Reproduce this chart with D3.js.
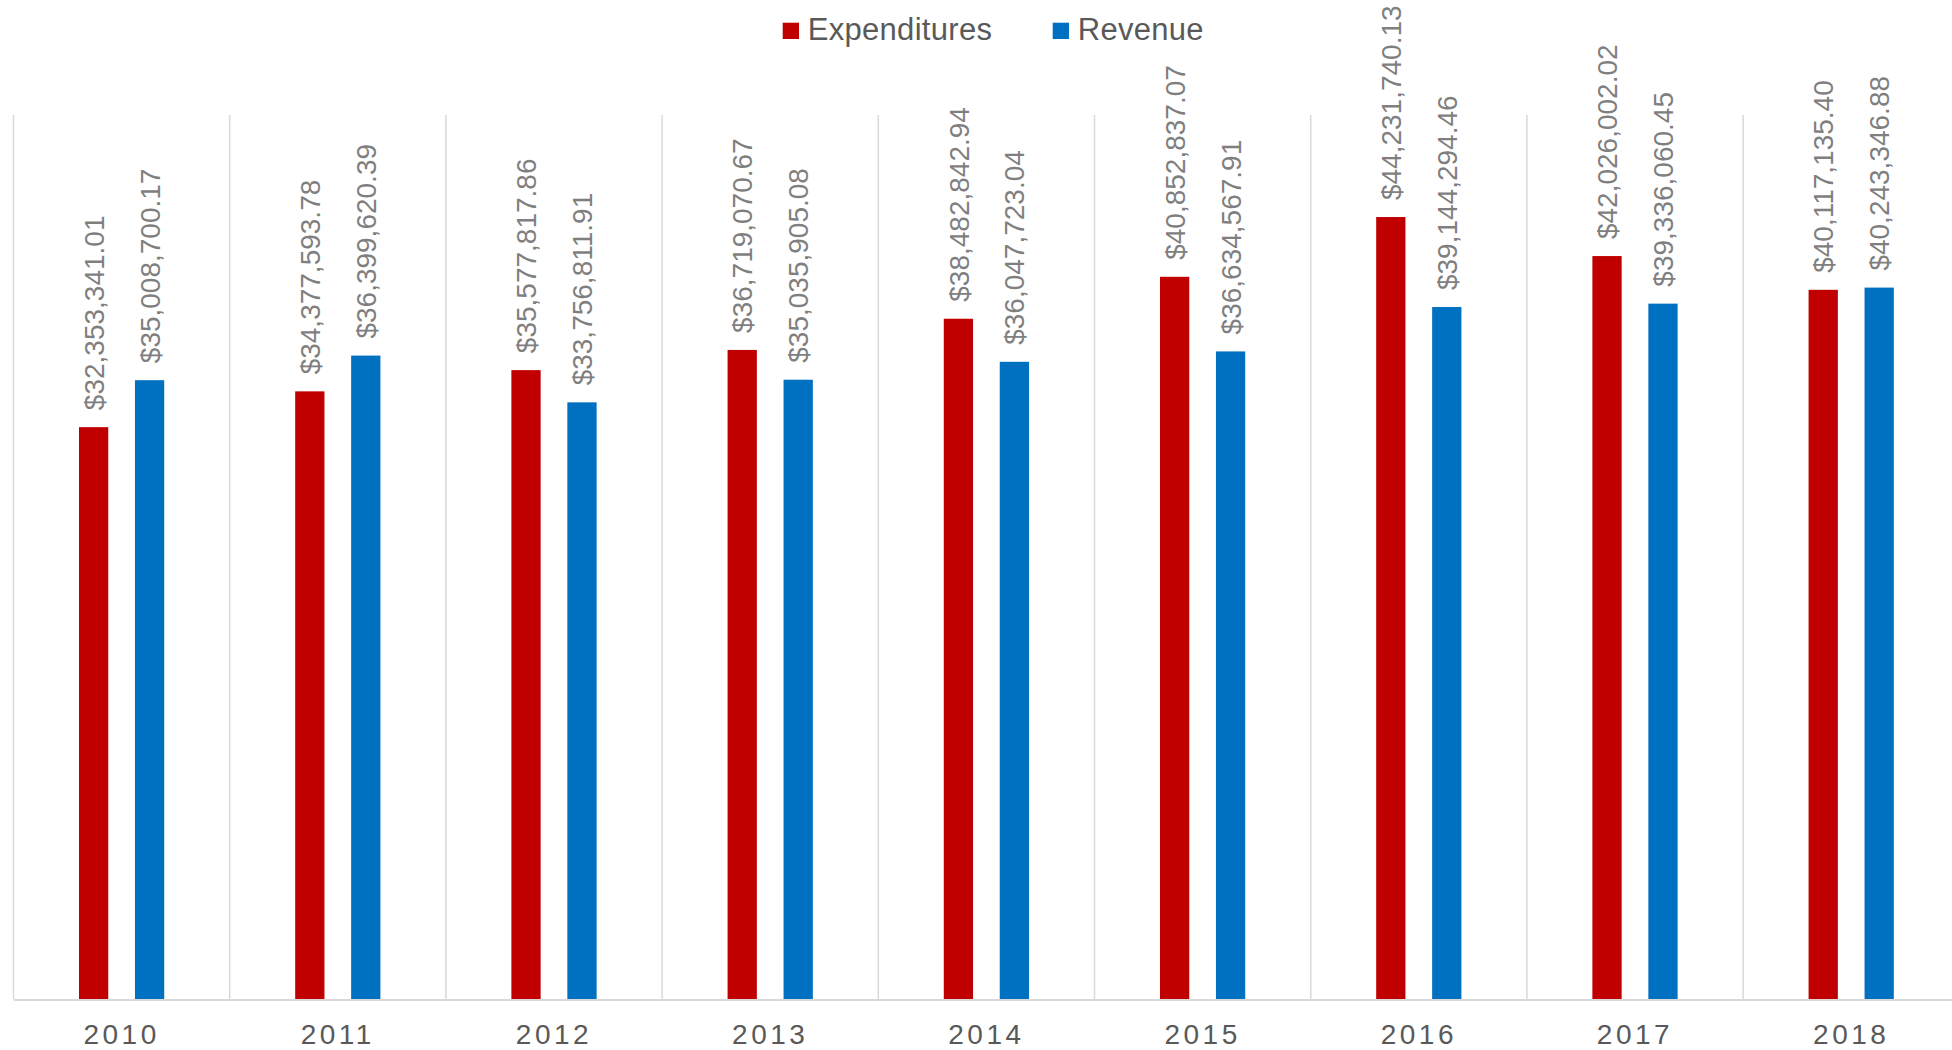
<!DOCTYPE html>
<html>
<head>
<meta charset="utf-8">
<script src="https://cdn.jsdelivr.net/npm/d3@7"></script>
<style>
  html, body { margin: 0; padding: 0; background: #fff; }
  svg { display: block; font-family: "Liberation Sans", Arial, sans-serif; }
</style>
</head>
<body>
<svg id="chart" width="1952" height="1050"></svg>
<script>
// Annual totals, 2010–2018
const years = ["2010", "2011", "2012", "2013", "2014", "2015", "2016", "2017", "2018"];
const expenditures = [32353341.01, 34377593.78, 35577817.86, 36719070.67, 38482842.94,
                      40852837.07, 44231740.13, 42026002.02, 40117135.40];
const revenue = [35008700.17, 36399620.39, 33756811.91, 35035905.08, 36047723.04,
                 36634567.91, 39144294.46, 39336060.45, 40243346.88];
const seriesNames = ["Expenditures", "Revenue"];
const seriesColors = ["#C00000", "#0070C0"];
const yDomain = [0, 50000000];

const svg = d3.select("#chart");

const plot = { left: 13.5, right: 13.5 + 9 * 216.2, top: 115, bottom: 999.5 };

const x0 = d3.scaleBand().domain(years).range([plot.left, plot.right]).padding(0);
const x1 = d3.scaleBand().domain(seriesNames).range([0, x0.bandwidth()])
  .paddingInner(0.477).paddingOuter(1.17);
const y = d3.scaleLinear().domain(yDomain).range([plot.bottom, plot.top]);

const money = v => "$" + d3.format(",.2f")(v);

// Category separators
const grid = svg.append("g");
const bounds = years.map(d => x0(d)).concat([x0(years[years.length - 1]) + x0.bandwidth()]);
grid.selectAll("line").data(bounds).join("line")
  .attr("x1", d => d).attr("x2", d => d)
  .attr("y1", plot.top).attr("y2", plot.bottom)
  .attr("stroke", "#d9d9d9").attr("stroke-width", 1.5);

const rows = years.map((yr, i) => ({
  year: yr,
  values: [
    { key: seriesNames[0], value: expenditures[i], color: seriesColors[0] },
    { key: seriesNames[1], value: revenue[i], color: seriesColors[1] }
  ]
}));

const groups = svg.append("g").selectAll("g").data(rows).join("g")
  .attr("transform", d => `translate(${x0(d.year)},0)`);

groups.selectAll("rect").data(d => d.values).join("rect")
  .attr("x", d => x1(d.key))
  .attr("width", x1.bandwidth())
  .attr("y", d => y(d.value))
  .attr("height", d => y(0) - y(d.value))
  .attr("fill", d => d.color);

// Rotated value labels above each bar
groups.selectAll("text").data(d => d.values).join("text")
  .attr("transform", d => `translate(${x1(d.key) + x1.bandwidth() / 2},${y(d.value) - 17}) rotate(-90)`)
  .attr("dy", "0.36em")
  .attr("text-anchor", "start")
  .attr("font-size", 28)
  .attr("fill", "#7f7f7f")
  .text(d => money(d.value));

// Baseline and year labels
const xAxis = svg.append("g").attr("transform", `translate(0,${plot.bottom})`)
  .call(d3.axisBottom(x0).tickSize(0).tickPadding(0));
xAxis.select(".domain").attr("stroke", "#d9d9d9").attr("stroke-width", 2);
xAxis.selectAll(".tick text")
  .attr("y", 44.5).attr("dy", 0)
  .attr("font-size", 28)
  .attr("letter-spacing", "3.5px")
  .attr("fill", "#595959")
  .attr("font-family", "'Liberation Sans', Arial, sans-serif");

// Legend
const legendItems = [
  { name: seriesNames[0], color: seriesColors[0], x: 782.7 },
  { name: seriesNames[1], color: seriesColors[1], x: 1052.7 }
];
const legend = svg.append("g").selectAll("g").data(legendItems).join("g")
  .attr("transform", d => `translate(${d.x},0)`);
legend.append("rect").attr("x", 0).attr("y", 22.7).attr("width", 16.3).attr("height", 16.3)
  .attr("fill", d => d.color);
legend.append("text").attr("x", 25).attr("y", 39.5)
  .attr("font-size", 31).attr("letter-spacing", "0.3px")
  .attr("fill", "#595959")
  .text(d => d.name);
</script>
</body>
</html>
